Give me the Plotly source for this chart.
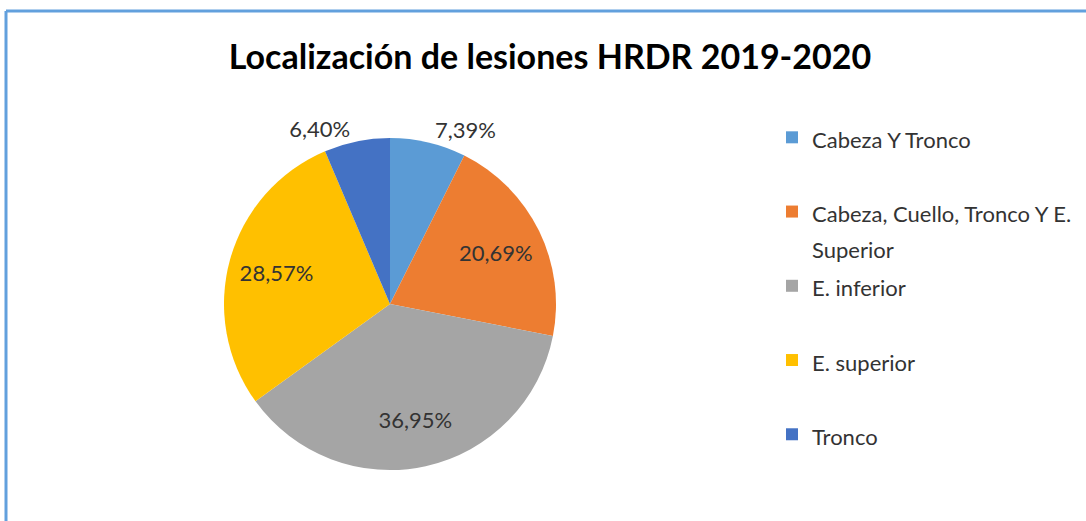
import plotly.graph_objects as go

categories = [
    "Cabeza Y Tronco",
    "Cabeza, Cuello, Tronco Y E. Superior",
    "E. inferior",
    "E. superior",
    "Tronco",
]
values = [7.39, 20.69, 36.95, 28.57, 6.40]
colors = ["#5B9BD5", "#ED7D31", "#A5A5A5", "#FFC000", "#4472C4"]
label_positions = ["outside", "inside", "inside", "inside", "outside"]
title_text = "Localización de lesiones HRDR 2019-2020"


def legend_label(name, width=27, lines=2, size=22):
    words = name.split(" ")
    rows, cur = [], ""
    for w in words:
        trial = (cur + " " + w).strip()
        if len(trial) > width and cur:
            rows.append(cur)
            cur = w
        else:
            cur = trial
    rows.append(cur)
    rows = [f'<span style="font-size:{size}px">{t}</span>' for t in rows]
    while len(rows) < lines:
        rows.append(" ")
    return "<br>".join(rows)


legend_labels = [legend_label(c) for c in categories]

W, H = 1086, 521
cx, cy, r = 390, 304, 166
dom = dict(
    x=[(cx - r) / W, (cx + r) / W],
    y=[(H - cy - r) / H, (H - cy + r) / H],
)

fig = go.Figure()
# coloured slices
fig.add_trace(
    go.Pie(
        labels=legend_labels,
        values=values,
        sort=False,
        direction="clockwise",
        rotation=0,
        marker=dict(colors=colors, line=dict(width=0)),
        textinfo="none",
        domain=dom,
        hovertext=categories,
        hoverinfo="text+percent",
    )
)
# percentage labels (transparent ring so inside labels sit out toward the rim)
fig.add_trace(
    go.Pie(
        labels=legend_labels,
        values=values,
        sort=False,
        direction="clockwise",
        rotation=0,
        hole=0.42,
        marker=dict(colors=["rgba(0,0,0,0)"] * len(values), line=dict(width=0)),
        texttemplate="%{percent:.2%}",
        textposition=label_positions,
        insidetextorientation="horizontal",
        textfont=dict(family="Lato, sans-serif", size=22, color="#333333"),
        domain=dom,
        showlegend=False,
        hoverinfo="skip",
    )
)

fig.update_layout(
    width=W,
    height=H,
    separators=",.",
    margin=dict(l=0, r=0, t=0, b=0),
    paper_bgcolor="white",
    plot_bgcolor="white",
    title=dict(
        text="<b>" + title_text + "</b>",
        x=550 / W,
        xanchor="center",
        y=1 - 57 / H,
        yanchor="middle",
        font=dict(family="Lato, sans-serif", size=34, color="#000000"),
    ),
    legend=dict(
        x=772 / W,
        xanchor="left",
        y=1 - 113 / H,
        yanchor="top",
        valign="top",
        font=dict(family="Lato, sans-serif", size=27.4, color="#333333"),
        bgcolor="rgba(0,0,0,0)",
    ),
    shapes=[
        dict(type="line", xref="paper", yref="paper",
             x0=6 / W, x1=6 / W, y0=0, y1=1 - 11 / H,
             line=dict(color="#62A0DD", width=3)),
        dict(type="line", xref="paper", yref="paper",
             x0=6 / W, x1=1, y0=1 - 11 / H, y1=1 - 11 / H,
             line=dict(color="#62A0DD", width=3)),
    ],
)

fig.write_html(
    "out.html",
    config={"displayModeBar": False},
    post_script="document.body.style.margin='0';document.body.style.padding='0';",
)
